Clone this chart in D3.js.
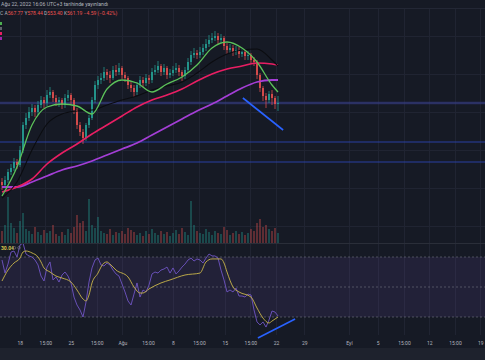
<!DOCTYPE html>
<html>
<head>
<meta charset="utf-8">
<script src="https://cdn.jsdelivr.net/npm/d3@7"></script>
<style>
  html, body { margin: 0; padding: 0; background: #161a25; overflow: hidden; }
  svg { display: block; font-family: Roboto, "Liberation Sans", sans-serif; }
</style>
</head>
<body>
<svg id="chart"></svg>
<script>
// candles (price units), one per bar
const opens = [482,479,484,492,496,502,499,514,539,546,552,556,552,559,564,561,569,572,566,562,
  564,559,566,569,564,554,539,532,526,539,546,564,579,584,586,592,589,586,594,592,
  596,589,586,579,576,572,579,584,581,586,584,592,594,598,592,596,589,591,594,596,
  592,588,594,602,609,611,609,612,616,620,624,626,628,624,626,618,614,616,612,614,
  610,612,608,609,604,602,589,576,568,564,570,566,560];
const highs = [486,488,495,500,506,505,518,542,551,557,560,559,563,568,567,574,577,574,569,567,
  566,570,574,571,566,556,542,535,541,549,567,583,588,591,597,595,593,598,599,601,
  598,592,588,583,579,582,588,587,590,589,596,599,603,600,600,598,595,598,601,599,
  594,597,606,613,616,614,617,620,625,629,631,633,631,630,628,621,620,619,618,617,
  615,614,613,611,607,604,591,578,571,573,574,568,568];
const lows = [474,476,481,489,493,495,497,511,535,543,548,547,549,556,556,558,566,562,558,557,
  555,556,563,560,550,535,528,520,523,536,544,561,575,580,583,584,581,584,588,589,
  585,582,575,572,567,569,576,577,578,580,581,589,591,588,589,585,586,588,591,588,
  583,585,591,599,606,605,606,609,613,617,621,623,620,621,614,610,611,608,609,606,
  607,604,604,600,598,585,572,563,556,561,559,555,553];
const closes = [479,484,492,496,502,499,514,539,546,552,556,552,559,564,561,569,572,566,562,564,
  559,566,569,564,554,539,532,526,539,546,564,579,584,586,592,589,586,594,592,596,
  589,586,579,576,572,579,584,581,586,584,592,594,598,592,596,589,591,594,596,592,
  588,594,602,609,611,609,612,616,620,624,626,628,624,626,618,614,616,612,614,610,
  612,608,609,604,602,589,576,568,564,570,566,560,561];
const volumes = [12,18,46,20,15,10,22,30,14,12, 9,16,11,8,13,10,12,18,9,7,
  11,8,14,10,16,28,20,22,12,44, 18,15,26,12,10,9,14,8,11,10,
  12,9,15,13,11,8,10,7,12,9, 14,10,8,12,9,11,7,10,13,9,
  15,11,8,42,18,12,10,9,14,11, 8,12,10,9,16,13,8,10,12,9,
  11,8,10,14,12,20,24,16,18,14, 12,15,10];

// moving averages, sampled every 5 bars
const maIdx = [0,5,10,15,20,25,30,35,40,45,50,55,60,65,70,75,80,85,90,92];
const maGreen = [468,497,539,557,560,558,550,575,584,581,572,580,587,599,616,622,616,602,579,572];
const maBlack = [466,482,514,540,550,553,554,559,564,568,574,578,582,591,602,610,614,615,604,598];
const maPink = [472,477,485,500,511,520,530,539,548,557,564,569,575,583,590,595,598,601,600,599];
const maPurple = [477,477,482,488,494,498,503,509,515,521,529,537,545,553,560,568,576,582,584,584];

// RSI per bar and its moving average
const rsiValues = [68.0,59.3,65.3,73.3,74.0,70.0,78.0,79.3,72.0,70.7,70.0,68.0,64.7,57.3,54.0,63.3,66.7,54.7,56.7,53.3,
  58.0,60.0,57.3,52.7,43.3,38.0,34.7,30.0,40.0,53.3,62.7,68.0,69.3,64.7,64.0,66.0,64.7,61.3,58.7,57.3,
  52.0,46.7,40.7,38.0,45.3,52.7,43.3,48.0,46.7,51.3,58.7,60.0,59.3,61.3,62.0,63.3,59.3,62.7,58.7,60.7,
  63.3,65.3,68.0,69.3,67.3,68.7,68.0,66.0,69.3,72.0,70.7,70.7,69.3,61.3,54.7,46.7,48.0,46.7,49.3,44.0,
  44.0,43.3,45.3,44.7,34.7,26.7,24.7,26.7,23.3,28.0,34.0,33.3,30.7];
const rsiMaIdx = [0,2,4,6,7,8,10,12,13,14,16,18,20,23,25,27,28,29,30,32,33,34,35,36,38,42,44,46,47,49,
  53,56,61,66,68,70,73,74,75,77,79,83,85,87,89,90,92];
const rsiMaValues = [54.0,61.3,66.0,69.3,73.3,74.0,72.7,70.0,66.7,62.7,60.0,57.3,56.0,53.3,48.0,42.0,40.7,44.7,52.7,59.3,
  63.3,66.0,66.7,65.3,61.3,56.7,50.0,46.0,46.0,48.7,52.7,54.7,58.0,59.3,66.7,68.7,68.7,66.0,60.0,50.0,
  46.7,43.3,36.0,29.3,26.0,27.3,30.0];

// drawings
const levels = [561, 522, 502];
const trendIdx = [80.3, 93.7];
const trendPrice = [566, 534];
const rsiTrendIdx = [85.3, 97.7];
const rsiTrendValues = [16, 28.7];

// time axis
const tickIdx = [5.9,14.43,22.9,31.57,40.1,48.67,57,65.67,74.23,82.77,91.33,100.77,115.67,125.23,134,142.43,151,159.43];
const tickLabels = ["18","15:00","25","15:00","Ağu","15:00","8","15:00","15","15:00","22","29","Eyl","5","15:00","12","15:00","19"];
const priceGrid = [438, 476, 514, 552, 590, 628];

const width = 485;
const height = 360;
const up = "#26a69a";
const down = "#ef5350";

const svg = d3.select("#chart").attr("width", width).attr("height", height);
svg.append("rect").attr("width", width).attr("height", height).attr("fill", "#161a25");

const x = d3.scaleLinear().domain([0, 161]).range([2, 485]);
const y = d3.scaleLinear().domain([420, 670]).range([244, -6]);
const yVol = d3.scaleLinear().domain([0, 60]).range([243, 183]);
const yRsi = d3.scaleLinear().domain([0, 100]).range([362, 212]);

const bars = closes.map((c, i) => ({ i, o: opens[i], h: highs[i], l: lows[i], c, v: volumes[i] }));

// grid
const grid = svg.append("g").attr("stroke", "#202432").attr("stroke-width", 1);
grid.selectAll("line.v").data(tickIdx).join("line")
  .attr("x1", (d) => Math.round(x(d)) + 0.5).attr("x2", (d) => Math.round(x(d)) + 0.5)
  .attr("y1", 8).attr("y2", 335);
grid.selectAll("line.h").data(priceGrid).join("line")
  .attr("x1", 0).attr("x2", width)
  .attr("y1", (d) => Math.round(y(d)) + 0.5).attr("y2", (d) => Math.round(y(d)) + 0.5);

// header
svg.append("line").attr("x1", 0).attr("x2", width).attr("y1", 8.5).attr("y2", 8.5)
  .attr("stroke", "#232735");
svg.append("text").attr("x", 1).attr("y", 6).attr("font-size", 5.2).attr("fill", "#b2b5be")
  .text("Ağu 22, 2022 16:06 UTC+3 tarihinde yayınlandı");

const legend = svg.append("text").attr("x", 0).attr("y", 14.5).attr("font-size", 5);
[["C  ", "#b2b5be"], ["A", "#b2b5be"], ["567.77 ", down], ["Y", "#b2b5be"], ["578.44 ", down],
 ["D", "#b2b5be"], ["553.40 ", down], ["K", "#b2b5be"], ["561.19 ", down], ["−4.59 (−0.42%)", down]]
  .forEach(([t, c]) => legend.append("tspan").attr("fill", c).text(t));

const maColors = ["#4caf50", "#d1d4dc", "#e91e63", "#9c27b0"];
svg.selectAll("rect.leg").data([22, 27, 32, 37]).join("rect")
  .attr("x", 0).attr("y", (d) => d).attr("width", 2).attr("height", 3)
  .attr("fill", (d, i) => maColors[i]).attr("opacity", (d, i) => (i === 1 ? 0.4 : 1));

// price pane
const pane = svg.append("g");
pane.append("clipPath").attr("id", "clipPrice")
  .append("rect").attr("x", 0).attr("y", 18).attr("width", width).attr("height", 225);
const price = pane.append("g").attr("clip-path", "url(#clipPrice)");

// volume
price.selectAll("rect.vol").data(bars).join("rect")
  .attr("x", (d) => x(d.i) - 0.8).attr("width", 1.6)
  .attr("y", (d) => yVol(d.v)).attr("height", (d) => yVol(0) - yVol(d.v))
  .attr("fill", (d) => (d.c >= d.o ? up : down)).attr("opacity", 0.42);

// horizontal levels
price.selectAll("line.level").data(levels).join("line")
  .attr("x1", 0).attr("x2", width)
  .attr("y1", (d) => y(d)).attr("y2", (d) => y(d))
  .attr("stroke", (d, i) => (i === 0 ? "#343b80" : "#2a44b0"))
  .attr("stroke-width", (d, i) => (i === 0 ? 2.4 : 1.1))
  .attr("opacity", (d, i) => (i === 0 ? 0.7 : 0.9));

// candles
price.selectAll("line.wick").data(bars).join("line")
  .attr("x1", (d) => x(d.i)).attr("x2", (d) => x(d.i))
  .attr("y1", (d) => y(d.h)).attr("y2", (d) => y(d.l))
  .attr("stroke", (d) => (d.c >= d.o ? up : down)).attr("stroke-width", 0.7);
price.selectAll("rect.body").data(bars).join("rect")
  .attr("x", (d) => x(d.i) - 0.8).attr("width", 1.6)
  .attr("y", (d) => y(Math.max(d.o, d.c)))
  .attr("height", (d) => Math.max(1, Math.abs(y(d.o) - y(d.c))))
  .attr("fill", (d) => (d.c >= d.o ? up : down));

// moving averages
const maLine = d3.line().x((d) => x(d[0])).y((d) => y(d[1])).curve(d3.curveMonotoneX);
[[maPurple, "#a43ed6", 1.8], [maPink, "#e91e63", 1.6], [maBlack, "#0b0c10", 1.1], [maGreen, "#5cc25a", 1.3]]
  .forEach(([vals, color, w]) => {
    price.append("path").datum(maIdx.map((d, k) => [d, vals[k]]))
      .attr("d", maLine).attr("fill", "none").attr("stroke", color).attr("stroke-width", w);
  });

// trend line on price
svg.append("line")
  .attr("x1", x(trendIdx[0])).attr("y1", y(trendPrice[0]))
  .attr("x2", x(trendIdx[1])).attr("y2", y(trendPrice[1]))
  .attr("stroke", "#2962ff").attr("stroke-width", 1.6);

// RSI pane
svg.append("line").attr("x1", 0).attr("x2", width).attr("y1", 243.5).attr("y2", 243.5)
  .attr("stroke", "#2a2e39");
svg.append("rect").attr("x", 0).attr("width", width)
  .attr("y", yRsi(70)).attr("height", yRsi(30) - yRsi(70))
  .attr("fill", "#7e57c2").attr("opacity", 0.12);
svg.selectAll("line.band").data([70, 50, 30]).join("line")
  .attr("x1", 0).attr("x2", width)
  .attr("y1", (d) => yRsi(d)).attr("y2", (d) => yRsi(d))
  .attr("stroke", "#787b86").attr("stroke-opacity", 0.55).attr("stroke-dasharray", "2,2");

svg.append("clipPath").attr("id", "clipRsi")
  .append("rect").attr("x", 0).attr("y", 244).attr("width", width).attr("height", 91);
const rsiG = svg.append("g").attr("clip-path", "url(#clipRsi)");
const rsiLine = d3.line().x((d, i) => x(i)).y((d) => yRsi(d));
rsiG.append("path").datum(rsiValues).attr("d", rsiLine)
  .attr("fill", "none").attr("stroke", "#6f55c4").attr("stroke-width", 0.9);
const rsiMaLine = d3.line().x((d) => x(d[0])).y((d) => yRsi(d[1])).curve(d3.curveMonotoneX);
rsiG.append("path").datum(rsiMaIdx.map((d, k) => [d, rsiMaValues[k]])).attr("d", rsiMaLine)
  .attr("fill", "none").attr("stroke", "#c9b64a").attr("stroke-width", 0.9);

const rsiLegend = svg.append("text").attr("x", 1).attr("y", 249.5).attr("font-size", 5);
rsiLegend.append("tspan").attr("fill", "#d8c64c").attr("font-weight", "bold").text("30.04");
svg.selectAll("circle.leg").data([14.5, 19]).join("circle")
  .attr("cx", (d) => d).attr("cy", 247.8).attr("r", 1.3)
  .attr("fill", "none").attr("stroke", "#787b86").attr("stroke-width", 0.6);

svg.append("line")
  .attr("x1", x(rsiTrendIdx[0])).attr("y1", yRsi(rsiTrendValues[0]))
  .attr("x2", x(rsiTrendIdx[1])).attr("y2", yRsi(rsiTrendValues[1]))
  .attr("stroke", "#2962ff").attr("stroke-width", 1.6);

// time axis
const axisG = svg.append("g").attr("transform", "translate(0,336)")
  .call(d3.axisBottom(x).tickValues(tickIdx).tickFormat((d, i) => tickLabels[i]).tickSize(0).tickPadding(5));
axisG.select(".domain").remove();
axisG.selectAll("text").attr("fill", "#b2b5be").attr("font-size", 5)
  .attr("font-family", "Roboto, 'Liberation Sans', sans-serif");

svg.append("rect").attr("x", 0).attr("y", 348).attr("width", width).attr("height", 12)
  .attr("fill", "#1e222d");
</script>
</body>
</html>
